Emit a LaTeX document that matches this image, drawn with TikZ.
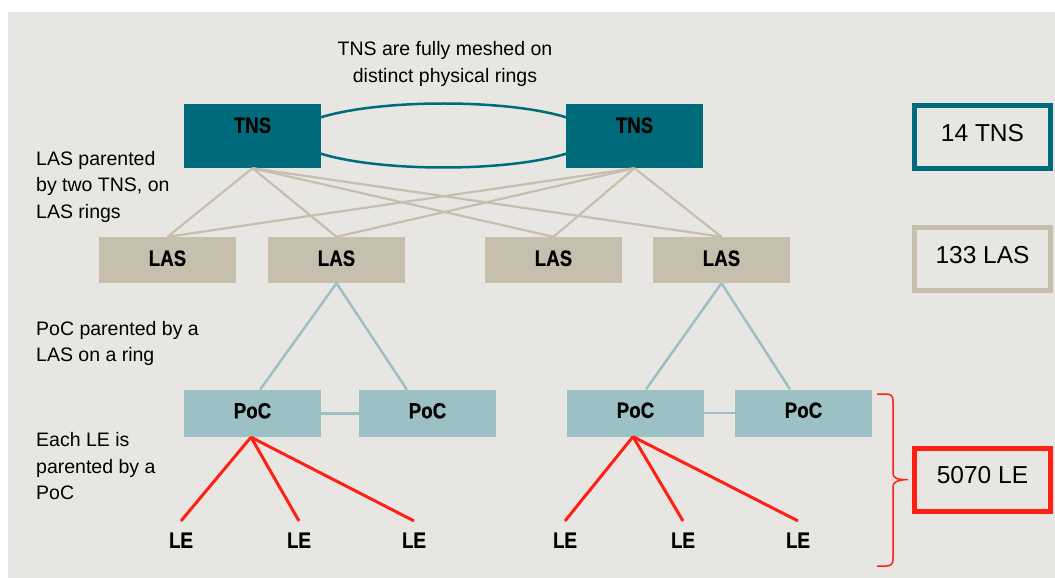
\documentclass[tikz,border=0pt]{standalone}
\usepackage{fontspec}
\setmainfont{Liberation Sans}
\newfontfamily\lblfont{Liberation Sans}[FakeStretch=0.85,BoldFeatures={FakeBold=0.6}]
\definecolor{bgcol}{RGB}{232,230,226}
\definecolor{tnscol}{RGB}{0,107,122}
\definecolor{lascol}{RGB}{198,191,174}
\definecolor{poccol}{RGB}{156,193,197}
\definecolor{lecol}{RGB}{255,32,20}
\begin{document}
\begin{tikzpicture}[x=1bp,y=-1bp,
  box/.style={draw=none, inner sep=0pt, minimum width=137bp, text height=15.7bp,
    font=\lblfont\bfseries\fontsize{22bp}{22bp}\selectfont, text=black},
  tnsbox/.style={box, fill=tnscol, minimum height=64bp, text depth=22bp},
  lasbox/.style={box, fill=lascol, minimum height=46bp, text depth=4bp},
  pocbox/.style={box, fill=poccol, minimum height=47bp, text depth=6bp},
  leaf/.style={inner xsep=0pt, inner ysep=11bp, text height=15.7bp, text depth=0pt,
    font=\lblfont\bfseries\fontsize{22bp}{22bp}\selectfont},
  note/.style={align=left, anchor=north west, inner sep=0pt,
    font=\fontsize{19.5bp}{26.5bp}\selectfont},
  sumbox/.style={line width=5bp, fill=bgcol, minimum width=136bp, minimum height=63bp,
    inner sep=0pt, text height=17.5bp, text depth=9bp,
    font=\fontsize{24.5bp}{24.5bp}\selectfont},
  tnslink/.style={draw=lascol, line width=2.2bp},
  poclink/.style={draw=poccol, line width=2.5bp},
  lelink/.style={draw=lecol, line width=3bp},
]
\useasboundingbox (0,0) rectangle (1055,578);
\fill[white] (0,0) rectangle (1055,578);
\fill[bgcol] (8,12) rectangle (1055,578);

% ring between TNS
\draw[tnscol, line width=2.5bp] (443.5,135.5) ellipse [x radius=149, y radius=32];

% TNS
\node[tnsbox] (tns1) at (252.5,136) {TNS};
\node[tnsbox] (tns2) at (634.5,136) {TNS};

% LAS
\node[lasbox] (las1) at (167.5,260) {LAS};
\node[lasbox] (las2) at (336.5,260) {LAS};
\node[lasbox] (las3) at (553.5,260) {LAS};
\node[lasbox] (las4) at (721.5,260) {LAS};

% PoC
\node[pocbox] (poc1) at (252.5,413.5) {PoC};
\node[pocbox] (poc2) at (427.5,413.5) {PoC};
\node[pocbox] (poc3) at (635.5,413) {PoC};
\node[pocbox] (poc4) at (803.5,413) {PoC};

% LE
\node[leaf] (le1) at (181,540) {LE};
\node[leaf] (le2) at (299,540) {LE};
\node[leaf] (le3) at (414,540) {LE};
\node[leaf] (le4) at (565,540) {LE};
\node[leaf] (le5) at (683,540) {LE};
\node[leaf] (le6) at (798,540) {LE};

% TNS-LAS links
\foreach \t in {tns1,tns2}
  \foreach \l in {las1,las2,las3,las4}
    \draw[tnslink] (\t.south) -- (\l.north);

% LAS-PoC links
\draw[poclink] (las2.south) -- ([xshift=7.5bp]poc1.north);
\draw[poclink] (las2.south) -- ([xshift=-20.5bp]poc2.north);
\draw[poclink] (las4.south) -- ([xshift=10.5bp]poc3.north);
\draw[poclink] (las4.south) -- ([xshift=-13.5bp]poc4.north);
\draw[poclink] (poc1.east) -- (poc2.west);
\draw[poclink] (poc3.east) -- (poc4.west);

% PoC-LE links
\foreach \l in {le1,le2,le3}
  \draw[lelink] ([xshift=-1.5bp]poc1.south) -- (\l.north);
\foreach \l in {le4,le5,le6}
  \draw[lelink] ([xshift=-2.5bp]poc3.south) -- (\l.north);

% notes
\node[align=center, anchor=north, inner sep=0pt, font=\fontsize{19.5bp}{26.5bp}\selectfont]
  (ntop) at (445,41.5) {TNS are fully meshed on\\distinct physical rings};
\node[note] (nlas) at (36,151) {LAS parented\\by two TNS, on\\LAS rings};
\node[note] (npoc) at (36,320.8) {PoC parented by a\\LAS on a ring};
\node[note] (nle) at (36,432.5) {Each LE is\\parented by a\\PoC};

% summary boxes
\node[sumbox, draw=tnscol] (s1) at (982.5,137) {14 TNS};
\node[sumbox, draw=lascol] (s2) at (982.5,259) {133 LAS};
\node[sumbox, draw=lecol] (s3) at (982.5,479.5) {5070 LE};

% brace
\draw[lecol, line width=1.5bp] (877,394) -- (886,394) .. controls (891,394) and (893,396) .. (893,401)
  -- (893,473) .. controls (893,478) and (897,480) .. ([xshift=-4bp]s3.west)
  .. controls (897,480) and (893,482) .. (893,487)
  -- (893,559) .. controls (893,564) and (891,566) .. (886,566) -- (877,566);
\end{tikzpicture}
\end{document}
